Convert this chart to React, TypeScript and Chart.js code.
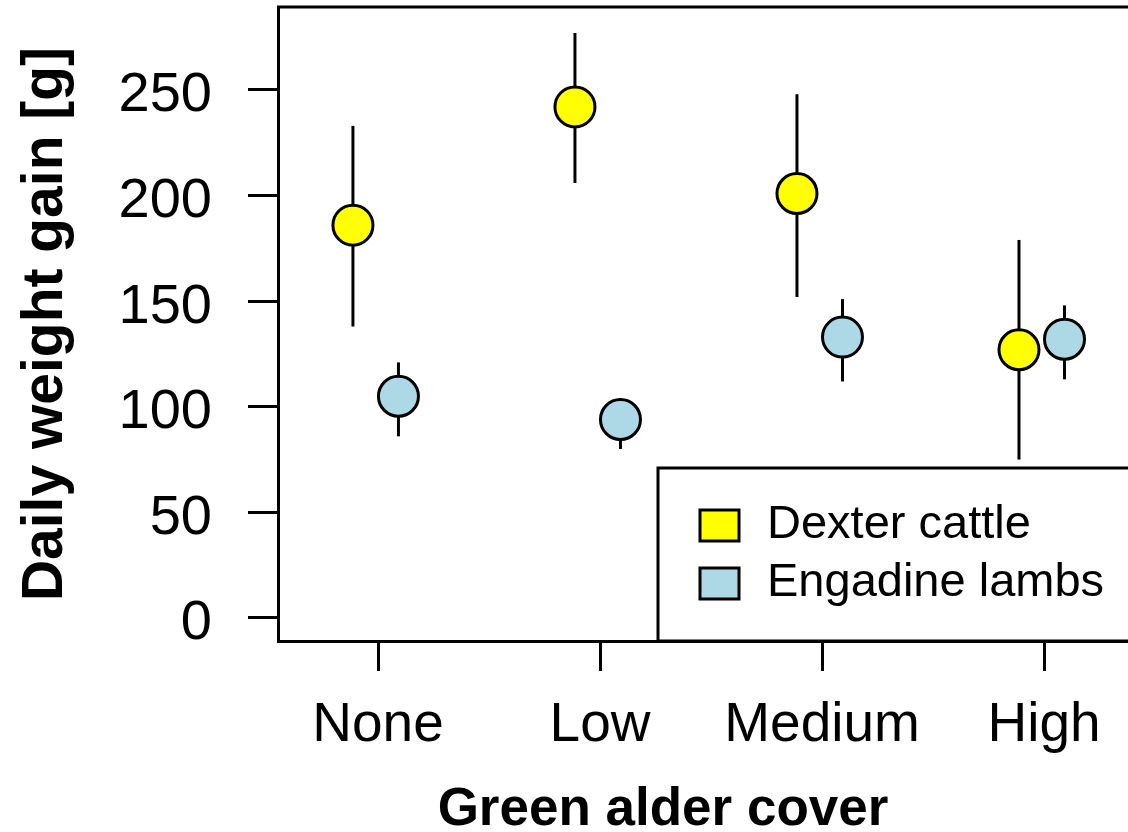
import React, { useEffect, useRef } from "react";
import { Chart, registerables } from "chart.js";

Chart.register(...registerables);

const CATEGORIES = ["None", "Low", "Medium", "High"];
const Y_TICKS = [0, 50, 100, 150, 200, 250];
const SERIES_NAMES = ["Dexter cattle", "Engadine lambs"];
const CATTLE_MEAN = [186, 242, 201, 127];
const CATTLE_LOW = [138, 206, 152, 75];
const CATTLE_HIGH = [233, 277, 248, 179];
const LAMB_MEAN = [105, 94, 133, 132];
const LAMB_LOW = [86, 80, 112, 113];
const LAMB_HIGH = [121, 104, 151, 148];
const X_TITLE = "Green alder cover";
const Y_TITLE = "Daily weight gain [g]";

const CATTLE_OFFSET = -0.113;
const LAMB_OFFSET = 0.092;
const COLORS = ["#FFFF00", "#ADD8E6"];
const FONT = "'Liberation Sans', Arial, sans-serif";
const LW = 3;

const LOWS = [CATTLE_LOW, LAMB_LOW];
const HIGHS = [CATTLE_HIGH, LAMB_HIGH];

const errorBarPlugin = {
  id: "errorBars",
  beforeDatasetsDraw(chart: any) {
    const ctx = chart.ctx;
    const ys = chart.scales.y;
    ctx.save();
    ctx.strokeStyle = "#000";
    ctx.lineWidth = LW;
    chart.data.datasets.forEach((_: any, di: number) => {
      const meta = chart.getDatasetMeta(di);
      meta.data.forEach((pt: any, j: number) => {
        const y1 = ys.getPixelForValue(LOWS[di][j]);
        const y2 = ys.getPixelForValue(HIGHS[di][j]);
        ctx.beginPath();
        ctx.moveTo(pt.x, y1);
        ctx.lineTo(pt.x, y2);
        ctx.stroke();
      });
    });
    ctx.restore();
  },
};

const decorPlugin = {
  id: "decor",
  afterDatasetsDraw(chart: any) {
    const ctx = chart.ctx;
    const a = chart.chartArea;
    ctx.save();
    // legend box
    const lx = a.left + 380;
    const ly = a.top + 461;
    ctx.fillStyle = "#fff";
    ctx.fillRect(lx, ly, chart.width - lx + 10, a.bottom - ly);
    ctx.strokeStyle = "#000";
    ctx.lineWidth = LW;
    ctx.beginPath();
    ctx.moveTo(chart.width + 10, ly);
    ctx.lineTo(lx, ly);
    ctx.lineTo(lx, a.bottom);
    ctx.lineTo(chart.width + 10, a.bottom);
    ctx.stroke();
    const rows = [ly + 57, ly + 115];
    SERIES_NAMES.forEach((name, i) => {
      const cy = rows[i];
      ctx.fillStyle = COLORS[i];
      ctx.fillRect(lx + 42, cy - 15, 39, 31);
      ctx.lineWidth = LW;
      ctx.strokeStyle = "#000";
      ctx.strokeRect(lx + 42, cy - 15, 39, 31);
      ctx.fillStyle = "#000";
      ctx.font = `47px ${FONT}`;
      ctx.textAlign = "left";
      ctx.textBaseline = "middle";
      ctx.fillText(name, lx + 109, cy);
    });
    ctx.restore();
  },
  afterDraw(chart: any) {
    const ctx = chart.ctx;
    const a = chart.chartArea;
    ctx.save();
    ctx.strokeStyle = "#000";
    ctx.lineWidth = LW;
    ctx.beginPath();
    ctx.moveTo(a.left - 1, a.top);
    ctx.lineTo(chart.width + 10, a.top);
    ctx.stroke();
    ctx.fillStyle = "#000";
    ctx.font = `bold 53px ${FONT}`;
    ctx.textAlign = "center";
    ctx.textBaseline = "alphabetic";
    ctx.fillText(X_TITLE, 663, 825);
    ctx.translate(46, (a.top + a.bottom) / 2);
    ctx.rotate(-Math.PI / 2);
    ctx.font = `bold 57px ${FONT}`;
    ctx.textBaseline = "middle";
    ctx.fillText(Y_TITLE, 0, 0);
    ctx.restore();
  },
};

const zeroPad = (s: any) => {
  s.paddingTop = 0;
  s.paddingBottom = 0;
  s.paddingLeft = 0;
  s.paddingRight = 0;
};

export default function App() {
  const ref = useRef<HTMLCanvasElement | null>(null);
  useEffect(() => {
    if (!ref.current) return;
    const chart = new Chart(ref.current, {
      type: "scatter",
      data: {
        datasets: [
          {
            label: SERIES_NAMES[0],
            data: CATTLE_MEAN.map((v, i) => ({ x: i + CATTLE_OFFSET, y: v })),
            backgroundColor: COLORS[0],
            borderColor: "#000",
            borderWidth: LW,
            pointRadius: 20,
            pointHoverRadius: 20,
          },
          {
            label: SERIES_NAMES[1],
            data: LAMB_MEAN.map((v, i) => ({ x: i + LAMB_OFFSET, y: v })),
            backgroundColor: COLORS[1],
            borderColor: "#000",
            borderWidth: LW,
            pointRadius: 20,
            pointHoverRadius: 20,
          },
        ],
      },
      options: {
        animation: false,
        responsive: false,
        devicePixelRatio: 1,
        layout: { autoPadding: false, padding: { left: 0, top: 7, right: 0, bottom: 0 } },
        plugins: { legend: { display: false }, tooltip: { enabled: false } },
        scales: {
          x: {
            type: "linear",
            min: -0.4505,
            max: 3.378,
            afterFit: (s: any) => {
              s.height = 191;
              zeroPad(s);
            },
            afterBuildTicks: (s: any) => {
              s.ticks = CATEGORIES.map((_, i) => ({ value: i }));
            },
            grid: {
              display: true,
              drawOnChartArea: false,
              drawTicks: true,
              tickLength: 30,
              color: "#000",
              lineWidth: LW,
            },
            border: { display: true, color: "#000", width: LW },
            ticks: {
              color: "#000",
              font: { family: FONT, size: 55, lineHeight: 1 },
              padding: 27,
              maxRotation: 0,
              autoSkip: false,
              callback: (v: any) => CATEGORIES[Math.round(Number(v))] ?? "",
            },
          },
          y: {
            type: "linear",
            min: -10.9,
            max: 289.3,
            afterFit: (s: any) => {
              s.width = 278;
              zeroPad(s);
            },
            afterBuildTicks: (s: any) => {
              s.ticks = Y_TICKS.map((v) => ({ value: v }));
            },
            grid: {
              display: true,
              drawOnChartArea: false,
              drawTicks: true,
              tickLength: 30,
              color: "#000",
              lineWidth: LW,
            },
            border: { display: true, color: "#000", width: LW },
            ticks: {
              color: "#000",
              font: { family: FONT, size: 56, lineHeight: 1 },
              padding: 36,
              labelOffset: 6,
              callback: (v: any) => String(v),
            },
          },
        },
      },
      plugins: [errorBarPlugin, decorPlugin],
    });
    return () => chart.destroy();
  }, []);
  return (
    <div style={{ position: "fixed", left: 0, top: 0, width: 1128, height: 832, background: "#fff" }}>
      <canvas ref={ref} width={1128} height={832} style={{ display: "block" }} />
    </div>
  );
}
